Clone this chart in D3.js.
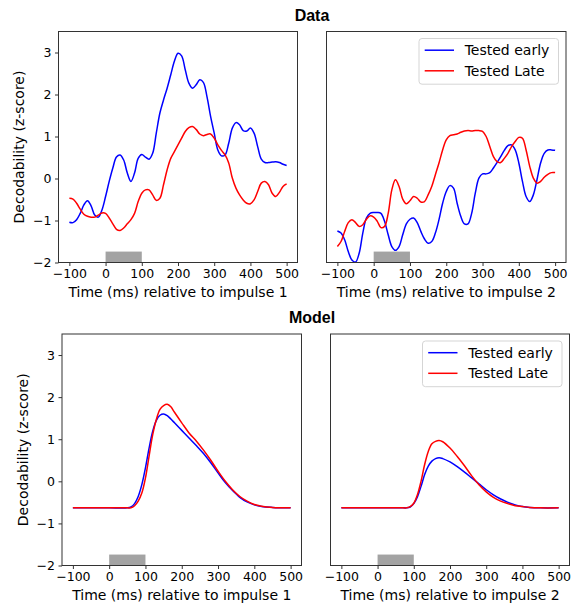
<!DOCTYPE html>
<html>
<head>
<meta charset="utf-8">
<script src="https://cdn.jsdelivr.net/npm/d3@7"></script>
<style>
body { margin: 0; background: #fff; }
text { font-family: "DejaVu Sans", sans-serif; fill: #000; }
.title { font-family: "Liberation Sans", Arial, sans-serif; font-weight: bold; font-size: 16px; }
</style>
</head>
<body>
<div id="chart"></div>
<script>
var width = 578;
var height = 606;

// data panels: 10 ms grid
var dataTime = [-100,-90,-80,-70,-60,-50,-40,-30,-20,-10,0,10,20,30,40,50,60,70,80,90,100,110,120,130,140,150,160,170,180,190,200,210,220,230,240,250,260,270,280,290,300,310,320,330,340,350,360,370,380,390,400,410,420,430,440,450,460,470,480,490,500];

var data1Early = [-1.04,-1.05,-0.98,-0.83,-0.63,-0.53,-0.65,-0.87,-0.92,-0.75,-0.43,-0.07,0.25,0.51,0.56,0.44,0.13,-0.07,0.13,0.48,0.57,0.51,0.46,0.60,1.08,1.56,1.87,2.15,2.47,2.79,2.98,2.92,2.59,2.27,2.15,2.23,2.35,2.29,1.95,1.48,1.08,0.68,0.54,0.56,0.84,1.20,1.33,1.28,1.14,1.13,1.20,1.08,0.76,0.46,0.38,0.38,0.39,0.40,0.38,0.34,0.31];
var data1Late = [-0.47,-0.49,-0.59,-0.73,-0.85,-0.90,-0.92,-0.92,-0.87,-0.82,-0.83,-0.94,-1.08,-1.21,-1.24,-1.18,-1.08,-0.98,-0.83,-0.55,-0.35,-0.27,-0.27,-0.39,-0.52,-0.47,-0.15,0.21,0.48,0.64,0.80,0.96,1.12,1.21,1.24,1.17,1.06,1.02,1.05,1.06,0.96,0.80,0.67,0.56,0.37,0.01,-0.23,-0.39,-0.51,-0.59,-0.60,-0.51,-0.31,-0.11,-0.07,-0.15,-0.35,-0.43,-0.33,-0.19,-0.13];
var data2Early = [-1.25,-1.30,-1.46,-1.74,-1.94,-1.99,-1.78,-1.30,-0.94,-0.83,-0.81,-0.81,-0.83,-1.02,-1.34,-1.62,-1.71,-1.62,-1.34,-1.08,-0.97,-0.94,-1.05,-1.26,-1.44,-1.54,-1.50,-1.30,-0.98,-0.59,-0.31,-0.17,-0.23,-0.59,-0.90,-1.08,-1.08,-0.83,-0.35,0.01,0.11,0.11,0.14,0.25,0.38,0.52,0.67,0.78,0.80,0.68,0.37,-0.07,-0.43,-0.55,-0.39,-0.03,0.37,0.60,0.68,0.68,0.67];
var data2Late = [-1.62,-1.50,-1.26,-1.05,-0.98,-1.05,-1.14,-1.10,-0.97,-0.89,-0.92,-1.02,-1.17,-1.14,-0.83,-0.27,-0.03,-0.19,-0.49,-0.60,-0.53,-0.43,-0.47,-0.56,-0.55,-0.39,-0.19,0.09,0.37,0.68,0.92,1.02,1.04,1.06,1.10,1.13,1.14,1.13,1.14,1.14,1.12,1.00,0.76,0.52,0.40,0.38,0.48,0.60,0.76,0.88,0.98,0.96,0.68,0.29,0.01,-0.11,-0.07,0.03,0.10,0.14,0.14];

// model panels
var modelTime = [-100,-50,0,50,60,70,80,90,100,110,120,130,140,150,160,170,180,200,220,240,260,280,300,320,340,360,380,400,420,450,500];
var model1Early = [-0.63,-0.63,-0.63,-0.63,-0.61,-0.53,-0.36,-0.08,0.32,0.79,1.19,1.45,1.57,1.60,1.56,1.48,1.39,1.21,1.03,0.85,0.66,0.44,0.20,-0.03,-0.22,-0.38,-0.49,-0.56,-0.60,-0.62,-0.63];
var model1Late = [-0.63,-0.63,-0.63,-0.63,-0.63,-0.58,-0.47,-0.28,0.08,0.60,1.11,1.47,1.71,1.80,1.83,1.77,1.64,1.39,1.15,0.96,0.74,0.50,0.24,0.00,-0.20,-0.36,-0.47,-0.55,-0.59,-0.62,-0.63];
var model2Early = [-0.63,-0.63,-0.63,-0.63,-0.63,-0.63,-0.63,-0.61,-0.53,-0.37,-0.12,0.16,0.36,0.48,0.54,0.56,0.54,0.46,0.35,0.22,0.08,-0.06,-0.20,-0.32,-0.42,-0.50,-0.56,-0.60,-0.62,-0.63,-0.63];
var model2Late = [-0.63,-0.63,-0.63,-0.63,-0.63,-0.63,-0.63,-0.60,-0.52,-0.32,0.00,0.40,0.71,0.89,0.95,0.97,0.94,0.79,0.59,0.37,0.13,-0.08,-0.25,-0.38,-0.47,-0.53,-0.58,-0.60,-0.62,-0.63,-0.63];

var xTicks = [-100,0,100,200,300,400,500];
var yTicks = [-2,-1,0,1,2,3];
var impulse = [0, 100];  // grey bar
var seriesNames = ['Tested early', 'Tested Late'];
var seriesColors = ['#0000ff', '#ff0000'];

var svg = d3.select('#chart').append('svg').attr('width', width).attr('height', height);

var panels = [
    {x0: 58.5, x1: 297.5, y0: 31.5, y1: 262.5, t: dataTime, early: data1Early, late: data1Late, imp: 1, ylab: true, legend: false},
    {x0: 326.5, x1: 566, y0: 31.5, y1: 262.5, t: dataTime, early: data2Early, late: data2Late, imp: 2, ylab: false, legend: true},
    {x0: 62, x1: 301.5, y0: 334, y1: 565.5, t: modelTime, early: model1Early, late: model1Late, imp: 1, ylab: true, legend: false},
    {x0: 330.5, x1: 569.5, y0: 334, y1: 565.5, t: modelTime, early: model2Early, late: model2Late, imp: 2, ylab: false, legend: true}
];

// matplotlib style minus sign
var fmt = function(d){ return String(d).replace('-', '\u2212'); };

svg.append('text').attr('class', 'title').attr('x', 312).attr('y', 21).attr('text-anchor', 'middle').text('Data');
svg.append('text').attr('class', 'title').attr('x', 312).attr('y', 323).attr('text-anchor', 'middle').text('Model');

panels.forEach(function(p){
    var x = d3.scaleLinear().domain([-130, 530]).range([p.x0, p.x1]);
    var y = d3.scaleLinear().domain([-2, 3.5]).range([p.y1, p.y0]);
    var g = svg.append('g');

    g.append('rect')
        .attr('x', x(impulse[0])).attr('width', x(impulse[1]) - x(impulse[0]))
        .attr('y', y(-1.74)).attr('height', y(-2) - y(-1.74))
        .attr('fill', '#a3a3a3');

    var line = d3.line().curve(d3.curveCatmullRom.alpha(0.5))
        .x(function(d){ return x(d[0]); })
        .y(function(d){ return y(d[1]); });

    [p.early, p.late].forEach(function(vals, k){
        g.append('path')
            .attr('d', line(p.t.map(function(t, i){ return [t, vals[i]]; })))
            .attr('fill', 'none')
            .attr('stroke', seriesColors[k])
            .attr('stroke-width', 1.5);
    });

    g.append('rect')
        .attr('x', p.x0).attr('y', p.y0)
        .attr('width', p.x1 - p.x0).attr('height', p.y1 - p.y0)
        .attr('fill', 'none').attr('stroke', '#333').attr('stroke-width', 1);

    var xAxis = g.append('g').attr('transform', 'translate(0,' + p.y1 + ')')
        .call(d3.axisBottom(x).tickValues(xTicks).tickSize(3.5).tickPadding(3.5).tickFormat(fmt));
    xAxis.select('.domain').remove();
    xAxis.selectAll('text').style('font-size', '12.5px').style('font-family', 'DejaVu Sans');
    xAxis.selectAll('line').attr('stroke', '#333');

    if (p.ylab) {
        var yAxis = g.append('g').attr('transform', 'translate(' + p.x0 + ',0)')
            .call(d3.axisLeft(y).tickValues(yTicks).tickSize(3.5).tickPadding(3.5).tickFormat(fmt));
        yAxis.select('.domain').remove();
        yAxis.selectAll('text').style('font-size', '12.5px').style('font-family', 'DejaVu Sans');
        yAxis.selectAll('line').attr('stroke', '#333');

        g.append('text')
            .attr('transform', 'translate(' + (p.x0 - 34.5) + ',' + ((p.y0 + p.y1) / 2) + ') rotate(-90)')
            .attr('text-anchor', 'middle')
            .style('font-size', '14px')
            .text('Decodability (z-score)');
    }

    g.append('text')
        .attr('x', (p.x0 + p.x1) / 2).attr('y', p.y1 + 34)
        .attr('text-anchor', 'middle')
        .style('font-size', '14px')
        .text('Time (ms) relative to impulse ' + p.imp);

    if (p.legend) {
        var lw = 139.5, lh = 45.7;
        var lx = p.x1 - 7.5 - lw, ly = p.y0 + 7;
        var lg = g.append('g').attr('transform', 'translate(' + lx + ',' + ly + ')');
        lg.append('rect').attr('width', lw).attr('height', lh).attr('rx', 3)
            .attr('fill', '#fff').attr('fill-opacity', 0.8).attr('stroke', '#d5d5d5');
        seriesNames.forEach(function(name, k){
            var yy = 11.7 + k * 20.6;
            lg.append('line').attr('x1', 5.7).attr('x2', 35).attr('y1', yy).attr('y2', yy)
                .attr('stroke', seriesColors[k]).attr('stroke-width', 1.5);
            lg.append('text').attr('x', 45.7).attr('y', yy + 5).style('font-size', '14px').text(name);
        });
    }
});
</script>
</body>
</html>
